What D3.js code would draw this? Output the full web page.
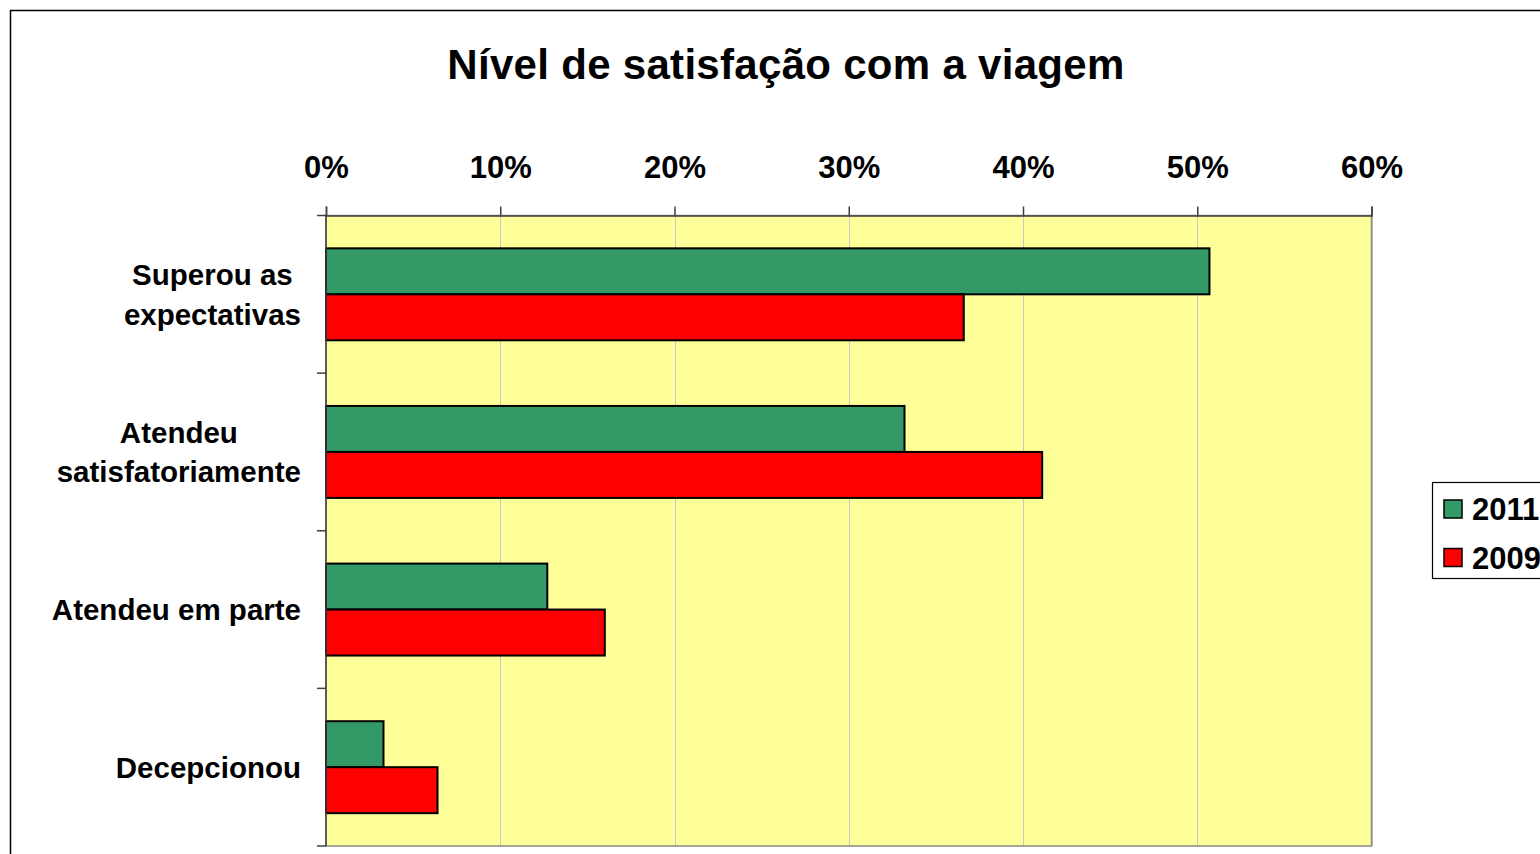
<!DOCTYPE html>
<html>
<head>
<meta charset="utf-8">
<script src="https://cdn.jsdelivr.net/npm/d3@7"></script>
<style>
  html, body { margin: 0; padding: 0; background: #ffffff; }
  svg { display: block; }
  text { font-family: "Liberation Sans", Arial, sans-serif; font-weight: bold; fill: #000; }
</style>
</head>
<body>
<svg id="chart" width="1540" height="854"></svg>
<script>
// Satisfaction levels (categories, top to bottom)
const categories = [
  ["Superou as", "expectativas"],
  ["Atendeu", "satisfatoriamente"],
  ["Atendeu em parte"],
  ["Decepcionou"]
];
const seriesNames = ["2011", "2009"];
const values2011 = [50.7, 33.2, 12.7, 3.3];
const values2009 = [36.6, 41.1, 16.0, 6.4];
const tickValues = [0, 10, 20, 30, 40, 50, 60];
const colors = ["#339966", "#FF0000"];

const svg = d3.select("#chart");

// outer chart frame (right and bottom edges run past the page)
svg.append("rect")
  .attr("x", 10.5).attr("y", 10.5)
  .attr("width", 1600).attr("height", 900)
  .attr("fill", "#fff").attr("stroke", "#000").attr("stroke-width", 1.5);

// title
svg.append("text")
  .attr("x", 786).attr("y", 79)
  .attr("text-anchor", "middle")
  .attr("font-size", 42)
  .attr("letter-spacing", 0.3)
  .text("Nível de satisfação com a viagem");

const plot = { left: 326, top: 215.5, right: 1371.5, bottom: 846 };

const x = d3.scaleLinear().domain([0, 60]).range([plot.left, plot.right]);
const catKeys = categories.map((c, i) => i);
const y0 = d3.scaleBand().domain(catKeys).range([plot.top, plot.bottom]).padding(0);
const y1 = d3.scaleBand().domain(seriesNames)
  .range([0, y0.bandwidth()]).paddingInner(0).paddingOuter(0.714);

// plot background
svg.append("rect")
  .attr("x", plot.left).attr("y", plot.top)
  .attr("width", plot.right - plot.left).attr("height", plot.bottom - plot.top)
  .attr("fill", "#FFFF99");

// vertical gridlines
svg.append("g").selectAll("line")
  .data(tickValues.slice(1))
  .join("line")
  .attr("x1", d => Math.round(x(d)) + 0.5).attr("x2", d => Math.round(x(d)) + 0.5)
  .attr("y1", plot.top).attr("y2", plot.bottom)
  .attr("stroke", "#c8c8c8").attr("stroke-width", 1);

// plot area border
svg.append("rect")
  .attr("x", plot.left).attr("y", plot.top)
  .attr("width", plot.right - plot.left).attr("height", plot.bottom - plot.top)
  .attr("fill", "none").attr("stroke", "#8a8a8a").attr("stroke-width", 1.5);

// bars
const rows = catKeys.map(i => ({ i, vals: [values2011[i], values2009[i]] }));
const groups = svg.append("g").selectAll("g")
  .data(rows).join("g")
  .attr("transform", d => `translate(0,${y0(d.i)})`);

groups.selectAll("rect")
  .data(d => d.vals.map((v, k) => ({ v, k })))
  .join("rect")
  .attr("x", x(0))
  .attr("y", d => y1(seriesNames[d.k]))
  .attr("width", d => x(d.v) - x(0))
  .attr("height", y1.bandwidth())
  .attr("fill", d => colors[d.k])
  .attr("stroke", "#000").attr("stroke-width", 2);

// top value axis
const xAxis = d3.axisTop(x)
  .tickValues(tickValues)
  .tickFormat(d => d + "%")
  .tickSize(9).tickPadding(0);
const gx = svg.append("g")
  .attr("transform", `translate(0,${plot.top})`)
  .call(xAxis);
gx.select(".domain").attr("stroke", "#404040").attr("stroke-width", 1.5);
gx.selectAll(".tick line").attr("stroke", "#404040").attr("stroke-width", 1.5);
gx.selectAll(".tick text")
  .attr("font-size", 31)
  .attr("font-family", "'Liberation Sans', Arial, sans-serif")
  .attr("font-weight", "bold")
  .attr("fill", "#000")
  .attr("dy", null)
  .attr("y", 178 - plot.top);

// left category axis: line with ticks at band boundaries
const boundaries = catKeys.map(i => y0(i)).concat([plot.bottom]);
svg.append("line")
  .attr("x1", plot.left).attr("x2", plot.left)
  .attr("y1", plot.top).attr("y2", plot.bottom)
  .attr("stroke", "#404040").attr("stroke-width", 1.5);
svg.append("g").selectAll("line")
  .data(boundaries).join("line")
  .attr("x1", plot.left - 9).attr("x2", plot.left)
  .attr("y1", d => d).attr("y2", d => d)
  .attr("stroke", "#404040").attr("stroke-width", 1.5);

// category labels: lines centred within a block whose right edge sits at x=301
const labelRight = 301;
const labelSize = 29.5;
const lineGap = 39.5;
categories.forEach((lines, i) => {
  const cy = y0(i) + y0.bandwidth() / 2;
  const g = svg.append("g");
  const texts = lines.map((ln, j) => g.append("text")
    .attr("font-size", labelSize)
    .attr("text-anchor", "middle")
    .attr("y", cy + 10.5 + (j - (lines.length - 1) / 2) * lineGap)
    .text(ln));
  const widest = d3.max(texts, t => t.node().getComputedTextLength());
  texts.forEach(t => t.attr("x", labelRight - widest / 2));
});

// legend
const legend = svg.append("g");
legend.append("rect")
  .attr("x", 1432.5).attr("y", 482.5)
  .attr("width", 200).attr("height", 96)
  .attr("fill", "#fff").attr("stroke", "#000").attr("stroke-width", 1.2);
seriesNames.forEach((name, k) => {
  const yy = 500 + k * 48.5;
  legend.append("rect")
    .attr("x", 1444).attr("y", yy)
    .attr("width", 18).attr("height", 18)
    .attr("fill", colors[k]).attr("stroke", "#000").attr("stroke-width", 1.5);
  legend.append("text")
    .attr("x", 1472).attr("y", yy + 20)
    .attr("font-size", 31)
    .text(name);
});
</script>
</body>
</html>
